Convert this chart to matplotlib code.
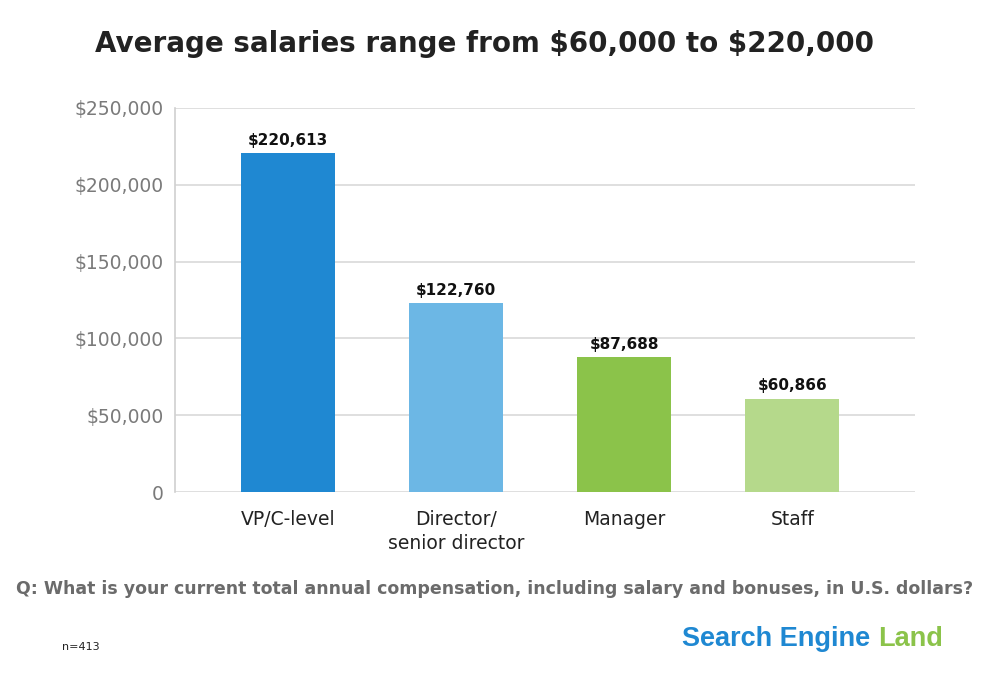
import matplotlib.pyplot as plt
from matplotlib.ticker import FuncFormatter

# data
categories = ["VP/C-level", "Director/\nsenior director", "Manager", "Staff"]
salaries = [220613, 122760, 87688, 60866]
bar_colors = ["#1F88D2", "#6CB7E5", "#8BC34A", "#B5D98B"]
yticks = [0, 50000, 100000, 150000, 200000, 250000]

plt.rcParams['font.family'] = ['DejaVu Sans']

fig = plt.figure(figsize=(9.88, 6.89), dpi=100)
ax = fig.add_axes([175 / 988, 1 - 492 / 689, 740 / 988, 384 / 689])

x = list(range(len(categories)))
ax.bar(x, salaries, width=0.56, color=bar_colors, zorder=3)

for xi, v in zip(x, salaries):
    ax.text(xi, v + 3500, "${:,}".format(v), ha='center', va='bottom',
            fontsize=11, fontweight='bold', color='#111111')

ax.set_ylim(0, 250000)
ax.set_xlim(-0.673, 3.73)
ax.set_yticks(yticks)
ax.yaxis.set_major_formatter(FuncFormatter(lambda v, p: "0" if v == 0 else "${:,.0f}".format(v)))
ax.set_xticks(x)
ax.set_xticklabels(categories, fontsize=13.5, color='#222222', linespacing=1.3)
ax.tick_params(axis='y', length=0, pad=8, labelsize=13.5, labelcolor='#7a7a7a')
ax.tick_params(axis='x', length=0, pad=13)
ax.grid(axis='y', color='#d9d9d9', lw=1.2, zorder=0)
for s in ['top', 'right', 'bottom']:
    ax.spines[s].set_visible(False)
ax.spines['left'].set_color('#d0d0d0')
ax.spines['left'].set_linewidth(1.2)

fig.text(484 / 988, 1 - 44 / 689, r"Average salaries range from \$60,000 to \$220,000",
         ha='center', va='center', fontsize=20, fontweight='bold', color='#222222')
fig.text(495 / 988, 1 - 589 / 689,
         "Q: What is your current total annual compensation, including salary and bonuses, in U.S. dollars?",
         ha='center', va='center', fontsize=12.5, fontweight='bold', color='#6b6b6b')
fig.text(62 / 988, 1 - 647 / 689, "n=413", ha='left', va='center', fontsize=8, color='#222222')

logo = fig.text(682 / 988, 1 - 639 / 689, "Search Engine ", ha='left', va='center',
                fontsize=19.5, fontweight='bold', color='#1F88D2',
                family=['Liberation Sans', 'DejaVu Sans'])
fig.canvas.draw()
bb = logo.get_window_extent()
fig.text(bb.x1 / 988, 1 - 639 / 689, "Land", ha='left', va='center',
         fontsize=19.5, fontweight='bold', color='#8BC34A',
         family=['Liberation Sans', 'DejaVu Sans'])

fig.savefig('out.png', dpi=100)
